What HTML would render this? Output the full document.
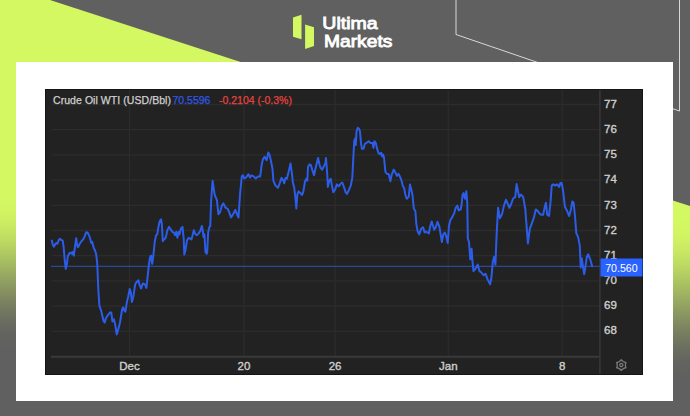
<!DOCTYPE html>
<html><head><meta charset="utf-8">
<style>
html,body{margin:0;padding:0;width:690px;height:416px;overflow:hidden;background:#606060;}
svg{display:block;}
text{font-family:"Liberation Sans",sans-serif;}
.ax{font-size:11.5px;fill:#cfcfcf;stroke:#cfcfcf;stroke-width:0.35px;}
.logo{font-size:16.8px;fill:#ffffff;stroke:#ffffff;stroke-width:0.85px;}
.ttl{font-size:10.5px;fill:#d0d0d0;stroke:#d0d0d0;stroke-width:0.25px;}
</style></head><body>
<svg width="690" height="416" viewBox="0 0 690 416">
<defs>
<linearGradient id="lgL" x1="0" y1="198" x2="0" y2="348" gradientUnits="userSpaceOnUse">
<stop offset="0.00" stop-color="#d4f862"/><stop offset="0.10" stop-color="#d1f462"/><stop offset="0.20" stop-color="#c8e862"/><stop offset="0.30" stop-color="#bbd762"/><stop offset="0.40" stop-color="#abc261"/><stop offset="0.50" stop-color="#9aac61"/><stop offset="0.60" stop-color="#899661"/><stop offset="0.70" stop-color="#798160"/><stop offset="0.80" stop-color="#6c7060"/><stop offset="0.90" stop-color="#636460"/><stop offset="1.00" stop-color="#606060"/>
</linearGradient>
<linearGradient id="lgR" x1="0" y1="220" x2="0" y2="378" gradientUnits="userSpaceOnUse">
<stop offset="0.00" stop-color="#d4f862"/><stop offset="0.10" stop-color="#d1f462"/><stop offset="0.20" stop-color="#c8e862"/><stop offset="0.30" stop-color="#bbd762"/><stop offset="0.40" stop-color="#abc261"/><stop offset="0.50" stop-color="#9aac61"/><stop offset="0.60" stop-color="#899661"/><stop offset="0.70" stop-color="#798160"/><stop offset="0.80" stop-color="#6c7060"/><stop offset="0.90" stop-color="#636460"/><stop offset="1.00" stop-color="#606060"/>
</linearGradient>
</defs>
<rect x="0" y="0" width="690" height="416" fill="#606060"/>
<polygon points="0,0 50,0 346,96.1 346,416 0,416" fill="url(#lgL)"/>
<polygon points="345,95.3 690,206.1 690,416 345,416" fill="url(#lgR)"/>
<polyline points="456,0 456,34.5 679.5,111 679.5,0" fill="none" stroke="#d8d8d8" stroke-width="1"/>
<!-- logo -->
<polygon points="293,17.5 301.5,14.8 301.5,39.3 293,36.7" fill="#d4f862"/>
<polygon points="305.1,24.6 314,27.3 314,46.1 305.1,48.9" fill="#d4f862"/>
<text x="322.3" y="29.0" class="logo" textLength="55.4" lengthAdjust="spacingAndGlyphs">Ultima</text>
<text x="323.9" y="46.7" class="logo" textLength="68.5" lengthAdjust="spacingAndGlyphs">Markets</text>
<!-- card -->
<rect x="16" y="62" width="657" height="339" fill="#ffffff"/>
<!-- chart -->
<rect x="45" y="89" width="598" height="286" fill="#151515"/>
<rect x="46" y="90" width="596" height="284" fill="#222222"/>
<line x1="52" y1="104.50" x2="599" y2="104.50" stroke="#2c2c2c" stroke-width="1.3"/>
<line x1="52" y1="129.70" x2="599" y2="129.70" stroke="#2c2c2c" stroke-width="1.3"/>
<line x1="52" y1="154.90" x2="599" y2="154.90" stroke="#2c2c2c" stroke-width="1.3"/>
<line x1="52" y1="180.10" x2="599" y2="180.10" stroke="#2c2c2c" stroke-width="1.3"/>
<line x1="52" y1="205.30" x2="599" y2="205.30" stroke="#2c2c2c" stroke-width="1.3"/>
<line x1="52" y1="230.50" x2="599" y2="230.50" stroke="#2c2c2c" stroke-width="1.3"/>
<line x1="52" y1="255.70" x2="599" y2="255.70" stroke="#2c2c2c" stroke-width="1.3"/>
<line x1="52" y1="280.90" x2="599" y2="280.90" stroke="#2c2c2c" stroke-width="1.3"/>
<line x1="52" y1="306.10" x2="599" y2="306.10" stroke="#2c2c2c" stroke-width="1.3"/>
<line x1="52" y1="331.30" x2="599" y2="331.30" stroke="#2c2c2c" stroke-width="1.3"/>
<line x1="129.5" y1="90" x2="129.5" y2="356" stroke="#2c2c2c" stroke-width="1.3"/>
<line x1="243.9" y1="90" x2="243.9" y2="356" stroke="#2c2c2c" stroke-width="1.3"/>
<line x1="335.1" y1="90" x2="335.1" y2="356" stroke="#2c2c2c" stroke-width="1.3"/>
<line x1="448.3" y1="90" x2="448.3" y2="356" stroke="#2c2c2c" stroke-width="1.3"/>
<line x1="562.3" y1="90" x2="562.3" y2="356" stroke="#2c2c2c" stroke-width="1.3"/>

<line x1="51" y1="356.7" x2="600" y2="356.7" stroke="#3a3a3a" stroke-width="1.9"/>
<line x1="599.9" y1="90" x2="599.9" y2="374" stroke="#363636" stroke-width="1.7"/>
<line x1="51" y1="266.4" x2="600" y2="266.4" stroke="#2b4798" stroke-width="1.4"/>
<polyline points="51.8,240.6 52.8,244.8 54.0,246.6 55.2,244.2 56.4,243.0 57.4,243.6 58.8,240.0 60.0,238.8 61.2,240.0 62.7,240.6 63.6,246.6 64.8,261.0 65.8,268.9 67.0,263.5 67.8,256.2 69.4,253.2 70.8,252.6 72.0,253.8 72.6,252.0 73.8,255.6 75.0,246.6 76.2,238.2 77.1,245.4 78.0,247.2 79.2,244.8 81.0,241.8 83.5,238.8 84.7,236.4 86.2,232.2 87.7,232.8 89.5,236.4 91.3,243.0 92.2,241.8 93.7,247.8 94.9,250.2 96.1,253.8 97.2,263.0 98.3,289.0 99.4,305.8 101.1,310.6 103.7,321.4 104.8,322.5 105.9,318.2 108.1,314.9 110.2,312.3 111.3,312.7 112.4,321.4 113.9,319.2 115.2,324.6 116.7,334.4 117.8,331.1 120.0,322.5 122.1,309.5 123.2,307.3 124.3,310.6 125.4,311.7 126.9,302.0 128.2,296.5 129.7,288.9 130.8,292.2 131.9,302.0 133.4,296.5 135.1,284.6 136.2,282.5 138.4,280.3 139.4,284.6 141.2,288.5 142.7,283.5 144.8,284.2 146.4,287.9 148.8,265.6 150.0,257.2 151.0,255.5 152.2,263.9 153.4,255.5 154.7,242.0 156.1,235.3 157.3,234.4 158.4,226.9 159.8,221.0 161.1,219.3 161.8,223.5 162.8,241.2 164.0,239.5 165.7,237.8 167.4,230.2 169.0,226.9 170.7,229.4 172.4,231.9 174.1,232.8 174.9,235.3 176.3,231.9 177.4,237.8 178.6,231.9 179.6,234.4 180.8,228.6 182.5,226.9 183.7,238.7 184.3,254.6 185.4,250.4 187.0,240.3 188.7,237.8 190.1,238.7 191.4,239.5 192.6,235.3 193.8,230.2 195.1,233.6 196.8,235.3 198.5,233.6 200.2,231.1 201.8,226.0 202.7,230.2 203.5,237.0 204.4,234.4 205.5,252.1 206.6,253.8 207.2,252.1 208.2,231.9 209.4,226.9 210.3,226.0 211.1,201.3 212.6,180.7 213.7,188.3 214.7,194.8 216.9,200.2 218.4,214.2 220.1,212.1 221.9,205.6 223.4,203.4 225.6,207.7 227.7,208.8 229.2,212.1 231.0,217.5 233.1,214.2 235.3,209.9 237.0,214.2 238.5,217.5 240.0,194.8 241.8,176.4 242.9,175.3 244.4,178.5 246.1,177.5 248.3,174.2 250.0,177.5 251.5,175.3 253.7,176.4 255.8,178.5 258.0,176.4 260.2,176.4 261.7,164.5 263.0,159.1 264.5,156.9 266.7,160.1 268.2,152.6 269.4,154.4 270.7,159.8 272.5,168.8 273.4,180.6 275.2,185.1 277.9,187.8 279.7,183.3 281.5,177.9 283.3,180.6 284.2,183.3 285.5,177.9 286.9,178.8 288.7,171.5 290.5,163.4 291.8,172.4 292.9,182.4 294.1,186.9 295.4,197.7 296.3,208.5 297.4,194.1 298.6,191.4 300.5,193.2 301.9,195.0 303.2,192.3 305.0,181.5 306.2,178.8 307.3,180.6 308.0,167.0 309.5,164.3 310.9,165.2 312.2,169.7 314.0,175.2 315.2,169.7 316.7,163.4 318.1,158.0 319.4,164.3 320.6,167.9 322.1,169.7 323.9,166.1 325.3,163.4 326.0,158.0 327.1,172.4 327.9,186.9 329.3,180.6 330.7,178.8 332.0,186.0 333.3,192.3 335.1,189.6 336.9,184.4 338.8,186.3 340.8,183.5 342.3,182.5 343.7,186.3 345.6,192.1 346.9,194.0 348.8,190.2 350.8,185.4 352.3,177.7 353.3,158.5 354.2,141.2 355.2,138.3 355.8,145.0 356.5,131.5 357.7,127.7 359.0,128.7 360.0,131.5 361.0,143.1 361.9,148.8 363.5,148.8 364.8,144.0 366.7,142.7 368.7,141.2 370.6,143.1 372.5,143.1 373.5,147.9 374.4,141.2 375.8,143.1 376.9,147.9 378.3,152.7 379.6,154.2 381.2,152.7 382.1,156.5 383.1,154.6 384.0,157.5 385.4,171.9 386.9,173.8 388.8,174.2 390.4,181.2 391.7,174.8 393.7,169.6 395.6,172.9 396.9,175.8 398.5,173.8 400.4,177.7 401.5,180.6 402.9,186.3 404.2,188.3 405.4,195.0 406.7,198.8 408.7,196.9 410.0,184.4 411.2,189.2 412.5,195.0 413.8,208.5 415.4,211.3 416.3,223.8 417.7,231.5 419.2,234.4 421.2,228.7 423.1,227.3 424.6,232.5 426.0,231.5 427.3,232.5 428.8,233.5 430.4,225.8 431.7,221.5 432.7,224.8 434.2,229.6 435.6,227.7 437.5,221.9 439.4,226.7 440.8,235.4 441.9,242.1 443.3,234.4 444.8,232.5 446.2,236.3 447.7,243.1 449.0,225.8 450.4,220.0 452.3,217.1 454.2,213.3 455.8,207.5 457.3,205.6 458.7,210.4 460.6,209.4 461.5,205.6 462.5,195.0 463.5,193.1 465.0,198.8 466.3,191.2 467.3,203.7 467.8,238.2 469.0,242.1 470.3,259.3 471.6,248.7 472.4,260.6 473.5,271.2 475.6,268.6 477.7,264.6 479.5,271.2 481.4,272.5 483.5,275.2 485.6,273.9 487.5,279.2 490.1,284.4 491.4,277.8 492.8,262.0 494.1,256.7 495.4,264.6 496.7,232.9 498.1,207.8 499.9,218.3 502.0,214.4 504.1,205.1 506.0,199.8 507.8,203.8 509.4,207.8 511.3,203.8 513.1,198.5 515.2,197.2 516.6,184.0 517.9,190.6 519.2,197.2 521.1,194.5 523.2,197.2 525.3,209.1 527.1,232.9 527.9,243.5 529.8,228.9 532.1,222.6 534.0,217.3 535.8,209.4 537.4,210.7 539.3,213.3 541.1,214.7 543.2,214.7 544.5,208.1 545.9,202.8 547.2,214.7 549.0,216.0 550.6,201.4 551.7,185.6 553.3,184.3 555.1,185.6 557.0,184.3 559.1,186.9 560.4,182.9 561.7,182.9 563.1,190.9 564.9,206.7 567.0,210.7 569.1,216.0 571.0,209.4 572.3,201.4 573.6,202.8 575.0,216.0 576.3,233.2 578.1,237.1 579.7,245.1 580.8,267.5 581.8,258.3 582.9,266.2 584.2,274.2 585.5,266.2 586.8,257.0 588.2,254.3 590.3,259.6 592.1,266.2" fill="none" stroke="#2b5de8" stroke-width="2" stroke-linejoin="round" stroke-linecap="round"/>
<text x="53" y="104.3" class="ttl" style="letter-spacing:0.06px">Crude Oil WTI (USD/Bbl)</text>
<text x="172.5" y="104.3" class="ttl" style="fill:#2f58e6;stroke:#2f58e6">70.5596</text>
<text x="219" y="104.3" class="ttl" style="fill:#e5433f;stroke:#e5433f">-0.2104 (-0.3%)</text>
<text x="604" y="108.2" class="ax">77</text>
<text x="604" y="133.3" class="ax">76</text>
<text x="604" y="158.4" class="ax">75</text>
<text x="604" y="183.4" class="ax">74</text>
<text x="604" y="208.5" class="ax">73</text>
<text x="604" y="233.6" class="ax">72</text>
<text x="604" y="258.7" class="ax">71</text>
<text x="604" y="283.8" class="ax">70</text>
<text x="604" y="308.8" class="ax">69</text>
<text x="604" y="333.9" class="ax">68</text>

<rect x="600.5" y="258.5" width="42" height="18" fill="#2962ff"/>
<text x="605.2" y="271.7" style="font-size:10.6px;fill:#ffffff">70.560</text>
<text x="129.5" y="370.3" class="ax" text-anchor="middle">Dec</text>
<text x="243.9" y="370.3" class="ax" text-anchor="middle">20</text>
<text x="335.1" y="370.3" class="ax" text-anchor="middle">26</text>
<text x="448.3" y="370.3" class="ax" text-anchor="middle">Jan</text>
<text x="562.3" y="370.3" class="ax" text-anchor="middle">8</text>

<!-- gear -->
<g transform="translate(621.3,365.1)" fill="none" stroke="#787878" stroke-width="1.3" stroke-linejoin="round">
<circle r="1.6"/>
<path d="M0.00,-5.00 L2.05,-3.55 L4.33,-2.50 L4.10,0.00 L4.33,2.50 L2.05,3.55 L0.00,5.00 L-2.05,3.55 L-4.33,2.50 L-4.10,0.00 L-4.33,-2.50 L-2.05,-3.55 Z"/><circle cx="0.00" cy="-5.00" r="0.9" fill="#787878" stroke="none"/><circle cx="4.33" cy="-2.50" r="0.9" fill="#787878" stroke="none"/><circle cx="4.33" cy="2.50" r="0.9" fill="#787878" stroke="none"/><circle cx="0.00" cy="5.00" r="0.9" fill="#787878" stroke="none"/><circle cx="-4.33" cy="2.50" r="0.9" fill="#787878" stroke="none"/><circle cx="-4.33" cy="-2.50" r="0.9" fill="#787878" stroke="none"/>
</g>
</svg>
</body></html>
